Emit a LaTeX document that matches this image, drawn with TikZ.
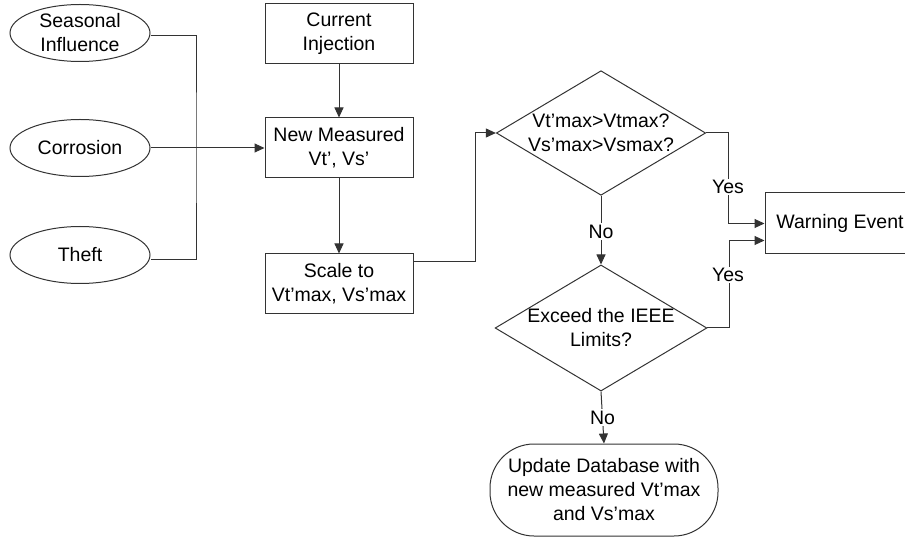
\documentclass[tikz,border=0pt]{standalone}
\usepackage{fontspec}
\setmainfont{Liberation Sans}
\usetikzlibrary{shapes.geometric,arrows.meta}
\begin{document}
\begin{tikzpicture}[x=1pt,y=1pt,
  every node/.style={font=\fontsize{19.5}{24}\selectfont, align=center, inner sep=0pt},
  line/.style={draw=black!80, line width=1pt},
  arr/.style={line, -{Triangle[length=10pt,width=9pt]}},
  ell/.style={ellipse, draw=black!80, line width=1pt, minimum width=140pt, minimum height=57pt},
  box/.style={rectangle, draw=black!80, line width=1pt, minimum width=148pt, minimum height=60pt},
  dec/.style={diamond, draw=black!80, line width=1pt, minimum width=208pt, minimum height=124pt, aspect=1.68},
  term/.style={rectangle, rounded corners=44pt, draw=black!80, line width=1pt, minimum width=228pt, minimum height=92pt},
  lab/.style={fill=white, inner sep=1.5pt}
]
\useasboundingbox (0,0) rectangle (905,-537);

\node[ell] (s) at (80,-33) {Seasonal\\Influence};
\node[ell] (c) at (80,-148) {Corrosion};
\node[ell] (t) at (80,-255) {Theft};

\node[box] (ci) at (339,-34) {Current\\Injection};
\node[box] (nm) at (339,-148) {New Measured\\Vt’, Vs’};
\node[box] (sc) at (339,-284) {Scale to\\Vt’max, Vs’max};

\node[dec] (d1) at (601,-133) {Vt’max>Vtmax?\\Vs’max>Vsmax?};
\node[dec] (d2) at (601,-328) {Exceed the IEEE\\Limits?};

\node[box, minimum width=150pt, minimum height=61pt] (w) at (840,-223.5) {Warning Event};
\node[term] (u) at (604,-490) {Update Database with\\new measured Vt’max\\and Vs’max};

\coordinate (bus) at (196,-148);
\coordinate (j1) at (475,-262);

\draw[line] ([yshift=-3pt]s.east) -| (bus) |- ([yshift=-5pt]t.east);
\draw[arr] (c.east) -- (nm.west);
\draw[arr] (ci) -- (nm);
\draw[arr] (nm) -- (sc);
\draw[arr] ([yshift=22pt]sc.east) -- (j1) |- (d1.west);

\draw[arr] (d1.east) -- ++(22,0) |- (w.west);
\node[lab] at (728,-187) {Yes};
\draw[arr] (d2.east) -- ++(22,0) |- ([yshift=-17pt]w.west);
\node[lab] at (728,-275) {Yes};

\draw[arr] (d1.south) -- (d2.north) node[lab, pos=0.52] {No};
\draw[arr] (d2.south) -- (u.north) node[lab, midway] {No};
\end{tikzpicture}
\end{document}
